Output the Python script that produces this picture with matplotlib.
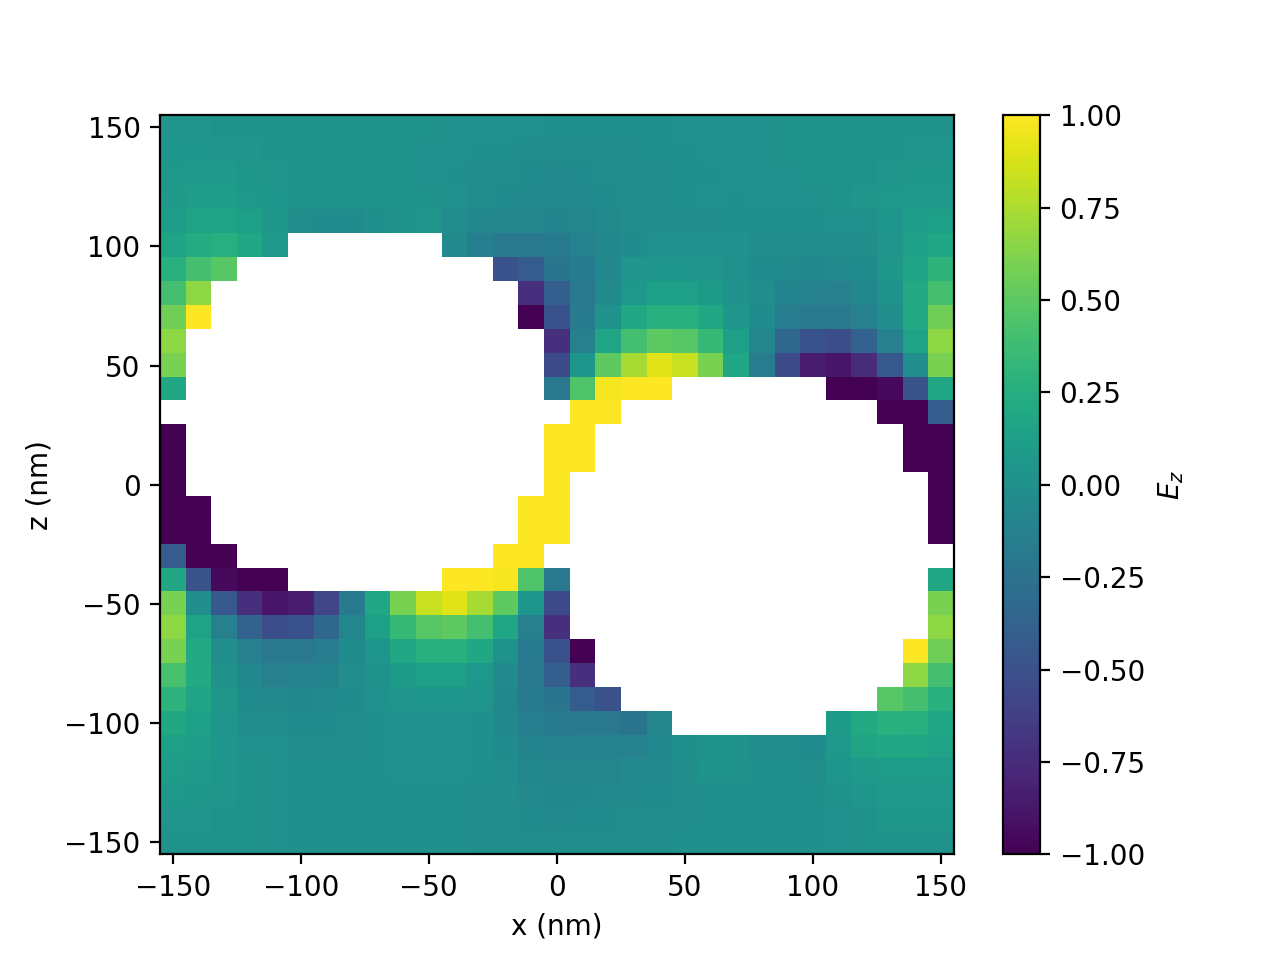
import numpy as np
from matplotlib import pyplot as plt

N = np.nan

x_nm = np.arange(-150, 151, 10)
z_nm = np.arange(150, -151, -10)

row_150 = [.04,.04,.03,.03,.03,.02,.02,.02,.02,.02,.02,.01,.01,.01,.01,.0,.0,.0,.0,.0,.01,.01,.01,.01,.02,.02,.02,.02,.03,.03,.03]
row_140 = [.05,.05,.04,.04,.03,.02,.02,.02,.02,.02,.01,.01,.0,.0,-.01,-.01,-.01,-.01,-.01,.0,.0,.01,.01,.01,.02,.02,.02,.03,.03,.04,.04]
row_130 = [.07,.08,.08,.06,.04,.02,.02,.02,.02,.02,.01,.0,-.01,-.02,-.03,-.04,-.03,-.02,-.01,-.01,.0,.0,.01,.01,.01,.02,.02,.03,.04,.06,.06]
row_120 = [.08,.11,.11,.07,.05,.03,.02,.02,.02,.02,.02,.01,-.02,-.03,-.05,-.05,-.05,-.03,-.01,-.01,.0,.01,.0,.01,.01,.01,.02,.04,.07,.08,.08]
row_110 = [.12,.16,.16,.13,.06,-.01,-.03,-.03,.0,.03,.04,-.02,-.07,-.09,-.09,-.1,-.08,-.05,-.02,-.01,-.01,-.01,.0,.0,.0,.0,.01,.01,.05,.11,.13]
row_100 = [.17,.23,.25,.19,.08,N,N,N,N,N,N,-.04,-.14,-.2,-.2,-.18,-.12,-.07,-.03,.01,.01,.01,.01,-.01,-.01,-.01,-.02,-.01,.04,.14,.19]
row_90 = [.27,.41,.48,N,N,N,N,N,N,N,N,N,N,-.5,-.42,-.22,-.17,-.07,.04,.05,.05,.04,.01,-.03,-.04,-.07,-.05,-.03,.06,.17,.29]
row_80 = [.41,.66,N,N,N,N,N,N,N,N,N,N,N,N,-.72,-.4,-.2,-.05,.07,.13,.13,.09,.03,-.02,-.1,-.12,-.13,-.07,.03,.22,.41]
row_70 = [.57,1.,N,N,N,N,N,N,N,N,N,N,N,N,-1.,-.5,-.18,.03,.2,.27,.27,.19,.05,-.03,-.15,-.2,-.2,-.13,-.01,.22,.57]
row_60 = [.66,N,N,N,N,N,N,N,N,N,N,N,N,N,N,-.72,-.13,.18,.4,.5,.48,.34,.13,-.08,-.33,-.5,-.52,-.37,-.13,.15,.66]
row_50 = [.6,N,N,N,N,N,N,N,N,N,N,N,N,N,N,-.55,.05,.5,.74,.9,.83,.6,.2,-.15,-.55,-.85,-.88,-.75,-.45,-.02,.6]
row_40 = [.2,N,N,N,N,N,N,N,N,N,N,N,N,N,N,-.2,.45,.97,1.,1.,N,N,N,N,N,N,-1.,-1.,-.95,-.48,.2]
row_30 = [N,N,N,N,N,N,N,N,N,N,N,N,N,N,N,N,1.,1.,N,N,N,N,N,N,N,N,N,N,-1.,-1.,-.42]
row_20 = [-1.,N,N,N,N,N,N,N,N,N,N,N,N,N,N,1.,1.,N,N,N,N,N,N,N,N,N,N,N,N,-1.,-1.]
row_10 = [-1.,N,N,N,N,N,N,N,N,N,N,N,N,N,N,1.,1.,N,N,N,N,N,N,N,N,N,N,N,N,-1.,-1.]
row_0 = [-1.,N,N,N,N,N,N,N,N,N,N,N,N,N,N,1.,N,N,N,N,N,N,N,N,N,N,N,N,N,N,-1.]
row_m10 = [-1.,-1.,N,N,N,N,N,N,N,N,N,N,N,N,1.,1.,N,N,N,N,N,N,N,N,N,N,N,N,N,N,-1.]
row_m20 = [-1.,-1.,N,N,N,N,N,N,N,N,N,N,N,N,1.,1.,N,N,N,N,N,N,N,N,N,N,N,N,N,N,-1.]
row_m30 = [-.42,-1.,-1.,N,N,N,N,N,N,N,N,N,N,1.,1.,N,N,N,N,N,N,N,N,N,N,N,N,N,N,N,N]
row_m40 = [.2,-.48,-.95,-1.,-1.,N,N,N,N,N,N,1.,1.,.97,.45,-.2,N,N,N,N,N,N,N,N,N,N,N,N,N,N,.2]
row_m50 = [.6,-.02,-.45,-.72,-.88,-.85,-.58,-.17,.2,.6,.83,.9,.74,.5,.05,-.55,N,N,N,N,N,N,N,N,N,N,N,N,N,N,.6]
row_m60 = [.66,.15,-.13,-.37,-.52,-.5,-.33,-.08,.13,.34,.48,.5,.4,.18,-.13,-.72,N,N,N,N,N,N,N,N,N,N,N,N,N,N,.66]
row_m70 = [.6,.22,-.01,-.13,-.2,-.2,-.15,-.03,.05,.19,.27,.27,.2,.03,-.18,-.5,-1.,N,N,N,N,N,N,N,N,N,N,N,N,1.,.57]
row_m80 = [.42,.22,.03,-.07,-.13,-.12,-.1,-.02,.03,.09,.13,.13,.07,-.05,-.2,-.4,-.72,N,N,N,N,N,N,N,N,N,N,N,N,.66,.41]
row_m90 = [.29,.17,.06,-.03,-.05,-.07,-.04,-.03,.01,.04,.05,.05,.04,-.07,-.17,-.22,-.42,-.5,N,N,N,N,N,N,N,N,N,N,.48,.41,.27]
row_m100 = [.19,.14,.04,-.01,-.02,-.03,-.03,-.02,.0,.01,.01,.01,.0,-.07,-.14,-.18,-.2,-.2,-.22,-.09,N,N,N,N,N,N,.09,.22,.27,.25,.19]
row_m110 = [.13,.11,.05,.01,.01,-.01,-.01,-.01,.0,.01,.01,.01,.0,-.03,-.1,-.12,-.12,-.12,-.11,-.07,.0,.03,.03,-.02,-.02,-.03,.07,.17,.2,.2,.15]
row_m120 = [.1,.08,.05,.02,.01,.0,.0,.0,.0,.01,.01,.01,.0,-.02,-.07,-.09,-.09,-.09,-.06,-.05,-.01,.02,.02,.0,.0,-.01,.05,.08,.1,.1,.1]
row_m130 = [.07,.06,.04,.02,.01,.0,.0,.0,.0,.0,.0,.0,-.01,-.02,-.06,-.07,-.07,-.06,-.05,-.03,-.02,.0,.0,.0,.0,.0,.03,.05,.08,.08,.08]
row_m140 = [.04,.04,.03,.02,.01,.0,.0,.0,.0,.0,.0,.0,-.01,-.02,-.03,-.04,-.03,-.03,-.01,-.01,-.01,.0,.0,.0,.0,.0,.01,.03,.06,.06,.06]
row_m150 = [.03,.03,.03,.02,.01,.0,.0,.0,.0,.0,.0,.0,-.01,-.01,-.01,-.01,-.01,-.01,-.01,-.01,.0,.0,.0,.0,.0,.0,.01,.02,.03,.03,.03]

ez = np.array([
    row_150, row_140, row_130, row_120, row_110, row_100, row_90, row_80,
    row_70, row_60, row_50, row_40, row_30, row_20, row_10, row_0,
    row_m10, row_m20, row_m30, row_m40, row_m50, row_m60, row_m70, row_m80,
    row_m90, row_m100, row_m110, row_m120, row_m130, row_m140, row_m150,
])

plt.figure(dpi=200)
im = plt.imshow(ez, extent=[x_nm[0] - 5, x_nm[-1] + 5, z_nm[-1] - 5, z_nm[0] + 5],
                aspect='auto', cmap='viridis', vmin=-1, vmax=1, interpolation='nearest')
plt.xlabel('x (nm)')
plt.ylabel('z (nm)')
cbar = plt.colorbar(im)
cbar.set_label('$E_z$')
plt.savefig('out.png')
plt.close()
